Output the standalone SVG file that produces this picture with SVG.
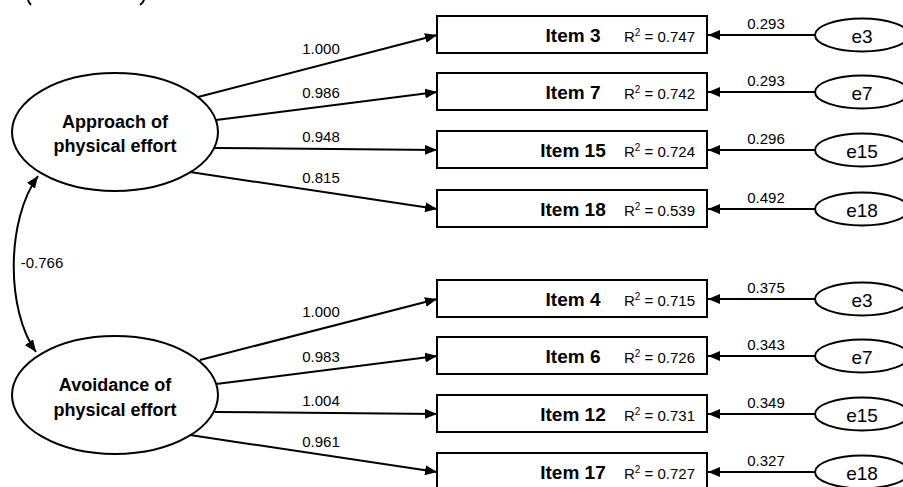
<svg xmlns="http://www.w3.org/2000/svg" width="903" height="487" viewBox="0 0 903 487">
<style>
.sh{fill:#fff;stroke:#000;stroke-width:2}
.ln{fill:none;stroke:#000;stroke-width:2}
.lat{font-family:"Liberation Sans",Arial,sans-serif;font-weight:bold;font-size:18px;text-anchor:middle}
.it{font-family:"Liberation Sans",Arial,sans-serif;font-weight:bold;font-size:19px;text-anchor:middle}
.r2{font-family:"Liberation Sans",Arial,sans-serif;font-size:15px}
.sup{font-size:10px}
.lb{font-family:"Liberation Sans",Arial,sans-serif;font-size:15px;text-anchor:middle}
.er{font-family:"Liberation Sans",Arial,sans-serif;font-size:19px;text-anchor:middle}
</style>
<defs>
<marker id="ah" viewBox="0 0 12 10" refX="12" refY="5" markerWidth="12" markerHeight="10" markerUnits="userSpaceOnUse" orient="auto-start-reverse">
<path d="M0,0 L12,5 L0,10 z" fill="#000"/>
</marker>
</defs>
<rect width="903" height="487" fill="#fff"/>
<path class="ln" d="M28,0 Q29,3 31,5 M144,0 Q143,3 140,5" stroke-width="1.5"/>

<g id="connectors">
<path class="ln" d="M198,97 L437,35" marker-end="url(#ah)"/>
<path class="ln" d="M216,120 L437,92" marker-end="url(#ah)"/>
<path class="ln" d="M215,148 L437,150" marker-end="url(#ah)"/>
<path class="ln" d="M190,172 L437,209" marker-end="url(#ah)"/>
<path class="ln" d="M200,360 L437,299" marker-end="url(#ah)"/>
<path class="ln" d="M216,384 L437,356" marker-end="url(#ah)"/>
<path class="ln" d="M215,412 L437,414" marker-end="url(#ah)"/>
<path class="ln" d="M190,435 L437,472" marker-end="url(#ah)"/>
<path class="ln" d="M815,35 L708,35" marker-end="url(#ah)"/>
<path class="ln" d="M815,92 L708,92" marker-end="url(#ah)"/>
<path class="ln" d="M815,150 L708,150" marker-end="url(#ah)"/>
<path class="ln" d="M815,209 L708,209" marker-end="url(#ah)"/>
<path class="ln" d="M815,299 L708,299" marker-end="url(#ah)"/>
<path class="ln" d="M815,356 L708,356" marker-end="url(#ah)"/>
<path class="ln" d="M815,414 L708,414" marker-end="url(#ah)"/>
<path class="ln" d="M815,472 L708,472" marker-end="url(#ah)"/>
<path class="ln" d="M38,176 C6,220 6,310 36,352" marker-start="url(#ah)" marker-end="url(#ah)"/>
<text class="lb" x="321" y="54">1.000</text>
<text class="lb" x="321" y="98">0.986</text>
<text class="lb" x="321" y="142">0.948</text>
<text class="lb" x="321" y="183">0.815</text>
<text class="lb" x="321" y="317">1.000</text>
<text class="lb" x="321" y="362">0.983</text>
<text class="lb" x="321" y="406">1.004</text>
<text class="lb" x="321" y="447">0.961</text>
<text class="lb" x="766" y="29">0.293</text>
<text class="lb" x="766" y="86">0.293</text>
<text class="lb" x="766" y="144">0.296</text>
<text class="lb" x="766" y="203">0.492</text>
<text class="lb" x="766" y="293">0.375</text>
<text class="lb" x="766" y="350">0.343</text>
<text class="lb" x="766" y="408">0.349</text>
<text class="lb" x="766" y="466">0.327</text>
<text class="lb" x="42" y="268">-0.766</text>
</g>

<g id="approach">
<ellipse class="sh" cx="115" cy="132" rx="103" ry="59"/>
<text class="lat" x="115" y="128">Approach of</text>
<text class="lat" x="115" y="152">physical effort</text>
</g>
<g id="avoidance">
<ellipse class="sh" cx="115" cy="395" rx="103" ry="59"/>
<text class="lat" x="115" y="391">Avoidance of</text>
<text class="lat" x="115" y="416">physical effort</text>
</g>

<g id="item3"><rect class="sh" x="437" y="16" width="270" height="37"/><text class="it" x="573" y="42">Item 3</text><text class="r2" x="624" y="42">R<tspan class="sup" dy="-6">2</tspan><tspan dy="6"> = 0.747</tspan></text></g>
<g id="item7"><rect class="sh" x="437" y="73" width="270" height="37"/><text class="it" x="573" y="99">Item 7</text><text class="r2" x="624" y="99">R<tspan class="sup" dy="-6">2</tspan><tspan dy="6"> = 0.742</tspan></text></g>
<g id="item15"><rect class="sh" x="437" y="131" width="270" height="37"/><text class="it" x="573" y="157">Item 15</text><text class="r2" x="624" y="157">R<tspan class="sup" dy="-6">2</tspan><tspan dy="6"> = 0.724</tspan></text></g>
<g id="item18"><rect class="sh" x="437" y="190" width="270" height="37"/><text class="it" x="573" y="216">Item 18</text><text class="r2" x="624" y="216">R<tspan class="sup" dy="-6">2</tspan><tspan dy="6"> = 0.539</tspan></text></g>
<g id="item4"><rect class="sh" x="437" y="280" width="270" height="37"/><text class="it" x="573" y="306">Item 4</text><text class="r2" x="624" y="306">R<tspan class="sup" dy="-6">2</tspan><tspan dy="6"> = 0.715</tspan></text></g>
<g id="item6"><rect class="sh" x="437" y="337" width="270" height="37"/><text class="it" x="573" y="363">Item 6</text><text class="r2" x="624" y="363">R<tspan class="sup" dy="-6">2</tspan><tspan dy="6"> = 0.726</tspan></text></g>
<g id="item12"><rect class="sh" x="437" y="395" width="270" height="37"/><text class="it" x="573" y="421">Item 12</text><text class="r2" x="624" y="421">R<tspan class="sup" dy="-6">2</tspan><tspan dy="6"> = 0.731</tspan></text></g>
<g id="item17"><rect class="sh" x="437" y="453" width="270" height="37"/><text class="it" x="573" y="479">Item 17</text><text class="r2" x="624" y="479">R<tspan class="sup" dy="-6">2</tspan><tspan dy="6"> = 0.727</tspan></text></g>

<g id="e3a"><ellipse class="sh" cx="862" cy="35" rx="47" ry="16.5"/><text class="er" x="862" y="43">e3</text></g>
<g id="e7a"><ellipse class="sh" cx="862" cy="92" rx="47" ry="16.5"/><text class="er" x="862" y="100">e7</text></g>
<g id="e15a"><ellipse class="sh" cx="862" cy="150" rx="47" ry="16.5"/><text class="er" x="862" y="158">e15</text></g>
<g id="e18a"><ellipse class="sh" cx="862" cy="209" rx="47" ry="16.5"/><text class="er" x="862" y="217">e18</text></g>
<g id="e3b"><ellipse class="sh" cx="862" cy="299" rx="47" ry="16.5"/><text class="er" x="862" y="307">e3</text></g>
<g id="e7b"><ellipse class="sh" cx="862" cy="356" rx="47" ry="16.5"/><text class="er" x="862" y="364">e7</text></g>
<g id="e15b"><ellipse class="sh" cx="862" cy="414" rx="47" ry="16.5"/><text class="er" x="862" y="422">e15</text></g>
<g id="e18b"><ellipse class="sh" cx="862" cy="472" rx="47" ry="16.5"/><text class="er" x="862" y="480">e18</text></g>
</svg>
